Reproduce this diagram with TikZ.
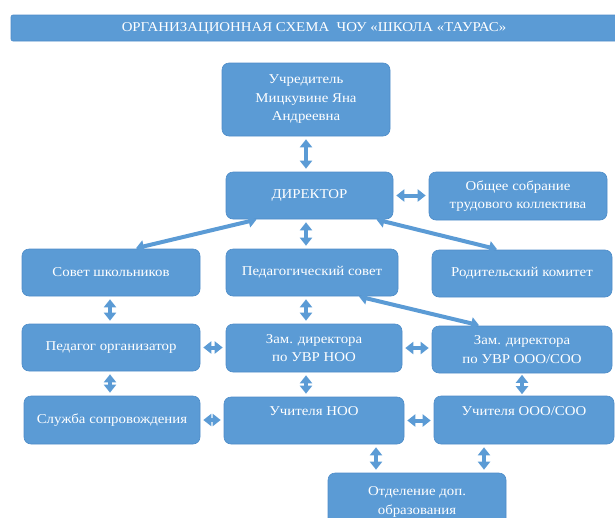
\documentclass[tikz,border=0pt]{standalone}
\usepackage{fontspec}
\setmainfont[FakeStretch=1.1]{Liberation Serif}
\usetikzlibrary{arrows.meta}
\definecolor{bx}{HTML}{5B9BD5}
\definecolor{bxl}{HTML}{4E8CC8}
\begin{document}
\begin{tikzpicture}[x=1pt,y=-1pt,
  box/.style={draw=bxl, line width=0.6pt, fill=bx, rounded corners=7pt, text=white, align=center,
    font=\fontsize{13.5}{18.5}\selectfont, inner sep=0pt},
  titlebar/.style={draw=bxl, line width=0.6pt, fill=bx, rounded corners=2pt, text=white,
    font=\fontsize{13.5}{15}\selectfont, inner sep=0pt, minimum width=606pt, minimum height=26pt},
  dbl/.style={draw=bx, line width=4pt, {Triangle[width=12pt,length=8pt]}-{Triangle[width=12pt,length=8pt]},
    shorten <=3pt, shorten >=3pt}
]
\useasboundingbox (0,0) rectangle (615,517);

\node[titlebar] (title) at (314,28) {ОРГАНИЗАЦИОННАЯ СХЕМА\ \ ЧОУ «ШКОЛА «ТАУРАС»};

\node[box, minimum width=168pt, minimum height=73pt] (uch) at (306,99.5) {Учредитель\\Мицкувине Яна\\Андреевна};
\node[box, minimum width=167pt, minimum height=47pt] (dir) at (309.5,195.5) {ДИРЕКТОР};
\node[box, minimum width=178pt, minimum height=48pt] (obs) at (518,196) {Общее собрание\\трудового коллектива};
\node[box, minimum width=178pt, minimum height=47pt] (sov) at (111,272.5) {Совет школьников};
\node[box, minimum width=172pt, minimum height=47pt] (ped) at (312,272.5) {Педагогический совет};
\node[box, minimum width=180pt, minimum height=47pt] (rod) at (522,273.5) {Родительский комитет};
\node[box, minimum width=178pt, minimum height=47pt] (org) at (111,347.5) {Педагог организатор};
\node[box, minimum width=176pt, minimum height=48pt] (zn) at (314,348) {Зам. директора\\по УВР НОО};
\node[box, minimum width=180pt, minimum height=47pt] (zo) at (522,349.5) {Зам. директора\\по УВР ООО/СОО};
\node[box, minimum width=176pt, minimum height=48pt] (slu) at (112,420) {Служба сопровождения};
\node[box, minimum width=180pt, minimum height=47pt] (un) at (314,420.5) {Учителя НОО\\\mbox{}};
\node[box, minimum width=180pt, minimum height=48pt] (uo) at (524,420) {Учителя ООО/СОО\\\mbox{}};
\node[box, minimum width=178pt, minimum height=58pt] (otd) at (417,502) {Отделение доп.\\образования};

\draw[dbl] (uch.south) -- (uch.south |- dir.north);
\draw[dbl] (dir.east) -- (dir.east -| obs.west);
\draw[dbl, shorten <=1pt, shorten >=2pt] ([xshift=-52pt]dir.south) -- ([xshift=23pt]sov.north);
\draw[dbl] ([xshift=-3.5pt]dir.south) -- ([xshift=-3.5pt]dir.south |- ped.north);
\draw[dbl, shorten <=1pt, shorten >=2pt] ([xshift=66pt]dir.south) -- ([xshift=-23pt]rod.north);
\draw[dbl, shorten <=1pt, shorten >=2pt] ([xshift=46pt]ped.south) -- ([xshift=-41pt]zo.north);
\draw[dbl] ([xshift=-1pt]sov.south) -- ([xshift=-1pt]sov.south |- org.north);
\draw[dbl] ([xshift=-6pt]ped.south) -- ([xshift=-6pt]ped.south |- zn.north);
\draw[dbl] (org.east) -- (org.east -| zn.west);
\draw[dbl] (zn.east) -- (zn.east -| zo.west);
\draw[dbl] ([xshift=-1pt]org.south) -- ([xshift=-1pt]org.south |- slu.north);
\draw[dbl] ([xshift=-8pt]zn.south) -- ([xshift=-8pt]zn.south |- un.north);
\draw[dbl, shorten <=1.5pt, shorten >=1.5pt] (zo.south) -- (zo.south |- uo.north);
\draw[dbl] (slu.east) -- (slu.east -| un.west);
\draw[dbl] (un.east) -- (un.east -| uo.west);
\draw[dbl] ([xshift=62pt]un.south) -- ([xshift=62pt]un.south |- otd.north);
\draw[dbl] ([xshift=-40pt]uo.south) -- ([xshift=-40pt]uo.south |- otd.north);
\end{tikzpicture}
\end{document}
